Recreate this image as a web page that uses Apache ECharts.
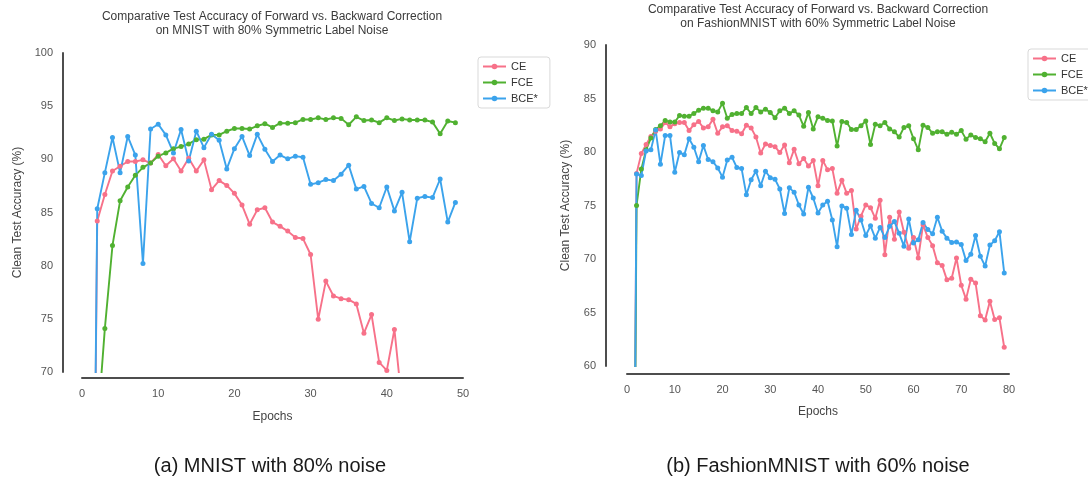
<!DOCTYPE html>
<html>
<head>
<meta charset="utf-8">
<title>Forward vs. Backward Correction</title>
<script src="https://cdn.jsdelivr.net/npm/echarts@6/dist/echarts.min.js"></script>
<style>
  html, body { margin: 0; padding: 0; background: #ffffff; }
  #chart { width: 1088px; height: 484px; }
</style>
</head>
<body>
<div id="chart"></div>
<script>
// Loss variants shown in both panels
const seriesNames = ['CE', 'FCE', 'BCE*'];
const seriesColors = ['#f77189', '#50b131', '#3ba3ec'];

// Panel (a): MNIST, 80% symmetric noise — clean test accuracy per epoch (epoch 1 first)
const mnistCE = [11.0, 84.2, 86.7, 88.9, 89.35, 89.8, 89.8, 89.95, 89.65, 90.45,
  89.4, 90.05, 88.9, 90.1, 88.9, 89.95, 87.15, 88.0, 87.55, 86.8,
  85.7, 83.9, 85.25, 85.45, 84.1, 83.7, 83.25, 82.65, 82.55, 81.05,
  74.95, 78.55, 77.15, 76.9, 76.8, 76.4, 73.65, 75.4, 70.9, 70.15,
  74.0, 67.0];
const mnistFCE = [12.0, 64.5, 74.1, 81.9, 86.1, 87.4, 88.5, 89.25, 89.65, 90.3,
  90.6, 91.0, 91.2, 91.45, 91.85, 91.9, 92.3, 92.3, 92.65, 92.9,
  92.9, 92.85, 93.15, 93.35, 93.0, 93.4, 93.4, 93.45, 93.75, 93.75,
  93.9, 93.75, 93.9, 93.85, 93.25, 94.0, 93.65, 93.7, 93.45, 93.9,
  93.65, 93.8, 93.7, 93.7, 93.7, 93.5, 92.4, 93.6, 93.45];
const mnistBCE = [12.0, 85.35, 88.75, 92.05, 88.75, 92.15, 90.4, 80.2, 92.85, 93.3,
  92.3, 90.6, 92.8, 89.85, 92.65, 91.1, 92.35, 91.8, 89.1, 91.0,
  92.15, 90.35, 92.35, 90.95, 89.8, 90.4, 90.05, 90.3, 90.2, 87.65,
  87.8, 88.1, 88.0, 88.6, 89.45, 87.2, 87.45, 85.85, 85.45, 87.4,
  85.15, 86.9, 82.25, 86.35, 86.5, 86.4, 88.15, 84.1, 85.95];

// Panel (b): FashionMNIST, 60% symmetric noise
const fashionCE = [10.0, 78.0, 79.85, 80.7, 81.45, 81.95, 82.15, 82.75, 82.35, 82.65,
  82.75, 82.75, 82.0, 82.55, 82.85, 82.25, 82.35, 83.05, 81.75, 82.35,
  82.45, 82.0, 81.95, 81.7, 82.5, 82.25, 81.4, 79.9, 80.75, 80.6,
  80.5, 79.95, 80.65, 79.0, 80.25, 78.9, 79.4, 78.7, 79.2, 76.85,
  79.2, 78.35, 78.45, 76.15, 77.35, 76.15, 76.4, 72.8, 74.0, 75.05,
  74.8, 73.8, 75.5, 70.4, 73.9, 71.85, 74.4, 72.5, 71.0, 72.0,
  70.1, 73.2, 72.0, 71.25, 69.65, 69.4, 68.05, 68.2, 70.1, 67.55,
  66.25, 68.1, 67.75, 64.7, 64.3, 66.05, 64.35, 64.5, 61.75];
const fashionFCE = [10.0, 75.0, 78.4, 80.2, 81.3, 82.1, 82.45, 82.95, 82.8, 82.8,
  83.4, 83.35, 83.35, 83.6, 83.9, 84.1, 84.1, 83.85, 83.75, 84.55,
  83.15, 83.5, 83.6, 83.6, 84.15, 83.6, 84.15, 83.75, 84.0, 83.7,
  83.2, 83.85, 84.1, 83.6, 83.85, 83.45, 82.4, 83.7, 82.15, 83.3,
  83.15, 82.95, 82.9, 80.55, 82.85, 82.75, 82.1, 82.1, 82.45, 82.9,
  80.7, 82.6, 82.45, 82.75, 82.15, 81.9, 81.4, 82.3, 82.45, 81.25,
  80.2, 82.5, 82.3, 81.75, 81.9, 81.9, 81.65, 81.85, 81.65, 82.0,
  81.2, 81.6, 81.35, 81.25, 80.95, 81.75, 80.8, 80.3, 81.35];
const fashionBCE = [10.0, 77.95, 77.8, 80.1, 80.2, 82.05, 78.85, 81.55, 81.55, 78.1,
  79.95, 79.75, 81.25, 80.45, 79.1, 80.6, 79.3, 79.1, 78.5, 77.65,
  79.25, 79.5, 78.55, 78.45, 76.0, 77.4, 78.2, 76.85, 78.2, 77.6,
  77.45, 76.55, 74.25, 76.65, 76.25, 75.05, 74.2, 76.7, 75.7, 74.3,
  75.05, 75.4, 73.65, 71.15, 74.95, 74.75, 72.3, 74.55, 73.65, 72.2,
  73.1, 71.95, 72.95, 72.0, 73.05, 73.5, 72.4, 71.2, 73.75, 71.5,
  71.8, 73.4, 72.75, 72.35, 73.9, 72.6, 71.95, 71.55, 71.6, 71.35,
  69.85, 70.45, 72.2, 70.25, 69.35, 71.3, 71.7, 72.55, 68.7];

// Axis ranges and tick steps
const mnistX = { min: 0, max: 50, step: 10 };
const mnistY = { min: 70, max: 100, step: 5 };
const fashionX = { min: 0, max: 80, step: 10 };
const fashionY = { min: 60, max: 90, step: 5 };

const panelTitles = [
  'Comparative Test Accuracy of Forward vs. Backward Correction\non MNIST with 80% Symmetric Label Noise',
  'Comparative Test Accuracy of Forward vs. Backward Correction\non FashionMNIST with 60% Symmetric Label Noise'
];
const captions = ['(a) MNIST with 80% noise', '(b) FashionMNIST with 60% noise'];
const xAxisName = 'Epochs';
const yAxisName = 'Clean Test Accuracy (%)';

const FONT = '"Liberation Sans", Arial, Helvetica, sans-serif';

function toPoints(values) {
  return values.map((v, i) => [i + 1, v]);
}

function xAxisFor(gridIndex, range, offset, nameGap) {
  return {
    type: 'value', gridIndex, min: range.min, max: range.max, interval: range.step,
    offset,
    axisLine: { show: true, onZero: false, lineStyle: { color: '#4d4d4d', width: 2 } },
    axisTick: { show: false },
    splitLine: { show: false },
    axisLabel: { color: '#555', fontSize: 11, fontFamily: FONT, margin: 10 },
    name: xAxisName, nameLocation: 'middle', nameGap,
    nameTextStyle: { color: '#444', fontSize: 12, fontFamily: FONT }
  };
}

function yAxisFor(gridIndex, range, offset, nameGap) {
  return {
    type: 'value', gridIndex, min: range.min, max: range.max, interval: range.step,
    offset,
    axisLine: { show: true, onZero: false, lineStyle: { color: '#4d4d4d', width: 2 } },
    axisTick: { show: false },
    splitLine: { show: false },
    axisLabel: { color: '#555', fontSize: 11, fontFamily: FONT, margin: 10 },
    name: yAxisName, nameLocation: 'middle', nameRotate: 90, nameGap,
    nameTextStyle: { color: '#444', fontSize: 12, fontFamily: FONT }
  };
}

function lineSeries(name, color, axisIndex, values) {
  return {
    type: 'line', name, xAxisIndex: axisIndex, yAxisIndex: axisIndex,
    data: toPoints(values),
    symbol: 'circle', symbolSize: 5, showSymbol: true,
    lineStyle: { width: 1.9, color },
    itemStyle: { color },
    clip: true,
    emphasis: { disabled: true }
  };
}

function legendAt(left, top) {
  return {
    data: seriesNames, left, top, orient: 'vertical',
    itemWidth: 23, itemHeight: 7, itemGap: 3,
    padding: [3, 12, 3, 4],
    borderColor: '#d9d9d9', borderWidth: 1, borderRadius: 3,
    backgroundColor: '#ffffff',
    selectedMode: false,
    textStyle: { fontSize: 11, color: '#333', fontFamily: FONT, lineHeight: 13 }
  };
}

function titleAt(text, x, top, size, color, lineHeight) {
  return {
    text, left: x, top, textAlign: 'center', padding: 0,
    textStyle: { fontSize: size, fontWeight: 'normal', color, fontFamily: FONT, lineHeight }
  };
}

const chart = echarts.init(document.getElementById('chart'), null, { renderer: 'canvas' });

chart.setOption({
  backgroundColor: '#ffffff',
  animation: false,
  title: [
    titleAt(panelTitles[0], 272, 10, 12, '#3a3a3a', 14),
    titleAt(panelTitles[1], 818, 3, 12, '#3a3a3a', 14),
    titleAt(captions[0], 270, 455, 20, '#1a1a1a', 22),
    titleAt(captions[1], 818, 455, 20, '#1a1a1a', 22)
  ],
  legend: [legendAt(478, 57), legendAt(1028, 49)],
  grid: [
    { left: 82, top: 53, width: 381, height: 319 },
    { left: 627, top: 45, width: 382, height: 321 }
  ],
  xAxis: [xAxisFor(0, mnistX, 6, 33), xAxisFor(1, fashionX, 8, 32)],
  yAxis: [yAxisFor(0, mnistY, 19, 39), yAxisFor(1, fashionY, 21, 34)],
  series: [
    lineSeries(seriesNames[0], seriesColors[0], 0, mnistCE),
    lineSeries(seriesNames[1], seriesColors[1], 0, mnistFCE),
    lineSeries(seriesNames[2], seriesColors[2], 0, mnistBCE),
    lineSeries(seriesNames[0], seriesColors[0], 1, fashionCE),
    lineSeries(seriesNames[1], seriesColors[1], 1, fashionFCE),
    lineSeries(seriesNames[2], seriesColors[2], 1, fashionBCE)
  ]
});
</script>
</body>
</html>
